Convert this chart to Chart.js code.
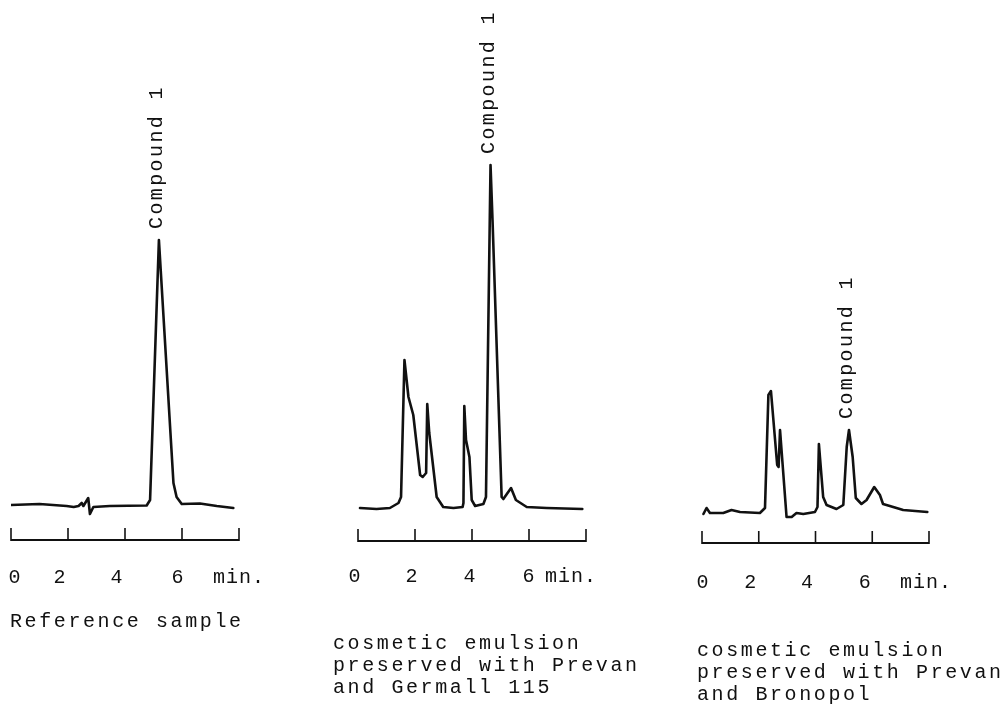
<!DOCTYPE html>
<html>
<head>
<meta charset="utf-8">
<script src="https://cdn.jsdelivr.net/npm/chart.js@4.4.1/dist/chart.umd.min.js"></script>
<style>
  html, body { margin: 0; padding: 0; background: #ffffff; }
  #wrap { position: relative; width: 1003px; height: 709px; overflow: hidden; background: #ffffff; }
  canvas { position: absolute; left: 0; top: 0; }
</style>
</head>
<body>
<div id="wrap">
  <canvas id="c1" width="1003" height="709"></canvas>
  <canvas id="c2" width="1003" height="709"></canvas>
  <canvas id="c3" width="1003" height="709"></canvas>
</div>
<script>
// ---------- DATA (retention time in min, detector response in arbitrary units) ----------
const tickValues = [0, 2, 4, 6, 8];
const tickLabels = ['0', '2', '4', '6', 'min.'];
const peakLabel = 'Compound 1';

// Panel 1 : Reference sample
const time1 = [0, 1.0, 1.95, 2.2, 2.37, 2.48, 2.54, 2.71, 2.77, 2.89, 3.47, 4.76, 4.88, 5.19, 5.70, 5.81, 5.99, 6.63, 7.22, 7.8];
const signal1 = [0, 1, -1, -2, -1, 2, -1, 7, -9, -2, -1, -0.5, 5, 265, 22, 8, 1, 1.5, -1, -3];
const caption1 = ['Reference sample'];
const compoundTime1 = 5.19;

// Panel 2 : cosmetic emulsion preserved with Prevan and Germall 115
const time2 = [0.07, 0.65, 1.12, 1.42, 1.51, 1.63, 1.77, 1.94, 2.18, 2.27, 2.39, 2.43, 2.50, 2.76, 2.99, 3.35, 3.67, 3.70, 3.73, 3.79, 3.91, 3.99, 4.11, 4.40, 4.49, 4.65, 4.72, 5.04, 5.10, 5.37, 5.54, 5.92, 6.62, 7.87];
const signal2 = [0, -1, 0, 5, 11, 148, 111, 93, 33, 31, 35, 104, 75, 11, 1, 0, 1, 5, 102, 68, 51, 8, 2, 4, 11, 343, 288, 11, 9, 20, 8, 1, 0, -1];
const caption2 = ['cosmetic emulsion', 'preserved with Prevan', 'and Germall 115'];
const compoundTime2 = 4.65;

// Panel 3 : cosmetic emulsion preserved with Prevan and Bronopol
const time3 = [0.05, 0.16, 0.28, 0.75, 1.04, 1.34, 2.04, 2.22, 2.34, 2.43, 2.65, 2.70, 2.75, 2.98, 3.16, 3.33, 3.57, 3.98, 4.07, 4.12, 4.27, 4.39, 4.74, 4.98, 5.10, 5.18, 5.31, 5.42, 5.62, 5.80, 6.07, 6.27, 6.38, 6.62, 7.09, 7.94];
const signal3 = [-2, 4, -1, -1, 2, 0, -1, 4, 117, 121, 47, 45, 82, -5, -5, -1, -2, 0, 5, 68, 15, 7, 3, 7, 65, 82, 55, 14, 8, 12, 25, 17, 8, 6, 2, 0];
const caption3 = ['cosmetic emulsion', 'preserved with Prevan', 'and Bronopol'];
const compoundTime3 = 5.18;

// ---------- LAYOUT / STYLE ----------
const INK = '#111111';
const FONT = '"Liberation Mono", "DejaVu Sans Mono", monospace';
const W = 1003, H = 709;

const panels = [
  { id: 'c1', time: time1, signal: signal1, caption: caption1, compound: compoundTime1,
    left: 11, right: 239, axisY: 540, baseOffset: 35,
    labelShift: [4, -8, -8, -4], minStart: -26, labelY: 38,
    capX: 10, capY: 627 },
  { id: 'c2', time: time2, signal: signal2, caption: caption2, compound: compoundTime2,
    left: 358, right: 586, axisY: 541, baseOffset: 33,
    labelShift: [-3, -3, -2, 0], minStart: -41, labelY: 36,
    capX: 333, capY: 649 },
  { id: 'c3', time: time3, signal: signal3, caption: caption3, compound: compoundTime3,
    left: 702, right: 929, axisY: 543, baseOffset: 31,
    labelShift: [1, -8, -8, -7], minStart: -29, labelY: 40,
    capX: 697, capY: 656 }
];
const TOP = 40;

function spaced(ctx, px) {
  if ('letterSpacing' in ctx) ctx.letterSpacing = px + 'px';
}

const decor = {
  id: 'decor',
  afterDraw(chart, args, opts) {
    const p = opts.panel;
    const ctx = chart.ctx;
    const xs = chart.scales.x, ys = chart.scales.y;
    const yAxis = chart.chartArea.bottom;
    ctx.save();
    // time axis with upward ticks
    ctx.strokeStyle = INK;
    ctx.lineWidth = 2;
    ctx.beginPath();
    ctx.moveTo(xs.getPixelForValue(tickValues[0]), yAxis);
    ctx.lineTo(xs.getPixelForValue(tickValues[tickValues.length - 1]), yAxis);
    ctx.stroke();
    ctx.lineWidth = 1.6;
    tickValues.forEach(v => {
      const x = xs.getPixelForValue(v);
      ctx.beginPath();
      ctx.moveTo(x, yAxis + 1);
      ctx.lineTo(x, yAxis - 12);
      ctx.stroke();
    });
    // tick labels
    ctx.fillStyle = INK;
    ctx.font = '20px ' + FONT;
    ctx.textBaseline = 'middle';
    spaced(ctx, 1);
    tickValues.forEach((v, i) => {
      const x = xs.getPixelForValue(v);
      if (i < tickValues.length - 1) {
        ctx.textAlign = 'center';
        ctx.fillText(tickLabels[i], x + p.labelShift[i], yAxis + p.labelY);
      } else {
        ctx.textAlign = 'left';
        ctx.fillText(tickLabels[i], x + p.minStart, yAxis + p.labelY);
      }
    });
    // compound label above its peak
    const idx = p.time.indexOf(p.compound);
    const px = xs.getPixelForValue(p.time[idx]);
    const py = ys.getPixelForValue(p.signal[idx]);
    ctx.save();
    ctx.translate(px - 2, py - 11);
    ctx.rotate(-Math.PI / 2);
    ctx.textAlign = 'left';
    ctx.textBaseline = 'middle';
    ctx.font = '20px ' + FONT;
    spaced(ctx, 2.4);
    ctx.fillText(peakLabel, 0, 0);
    ctx.restore();
    // caption
    ctx.textAlign = 'left';
    ctx.textBaseline = 'alphabetic';
    ctx.font = '20px ' + FONT;
    spaced(ctx, 2.6);
    p.caption.forEach((line, i) => {
      ctx.fillText(line, p.capX, p.capY + i * 22);
    });
    ctx.restore();
  }
};

panels.forEach(p => {
  const yMin = -p.baseOffset;
  const yMax = yMin + (p.axisY - TOP);
  new Chart(document.getElementById(p.id), {
    type: 'line',
    data: {
      datasets: [{
        data: p.time.map((t, i) => ({ x: t, y: p.signal[i] })),
        borderColor: INK,
        borderWidth: 2.6,
        pointRadius: 0,
        tension: 0,
        fill: false,
        borderJoinStyle: 'round',
        borderCapStyle: 'round'
      }]
    },
    options: {
      responsive: false,
      animation: false,
      devicePixelRatio: 1,
      layout: { padding: { left: p.left, right: W - p.right, top: TOP, bottom: H - p.axisY } },
      scales: {
        x: { type: 'linear', min: 0, max: 8, display: false },
        y: { type: 'linear', min: yMin, max: yMax, display: false }
      },
      plugins: {
        legend: { display: false },
        tooltip: { enabled: false },
        decor: { panel: p }
      }
    },
    plugins: [decor]
  });
});
</script>
</body>
</html>
